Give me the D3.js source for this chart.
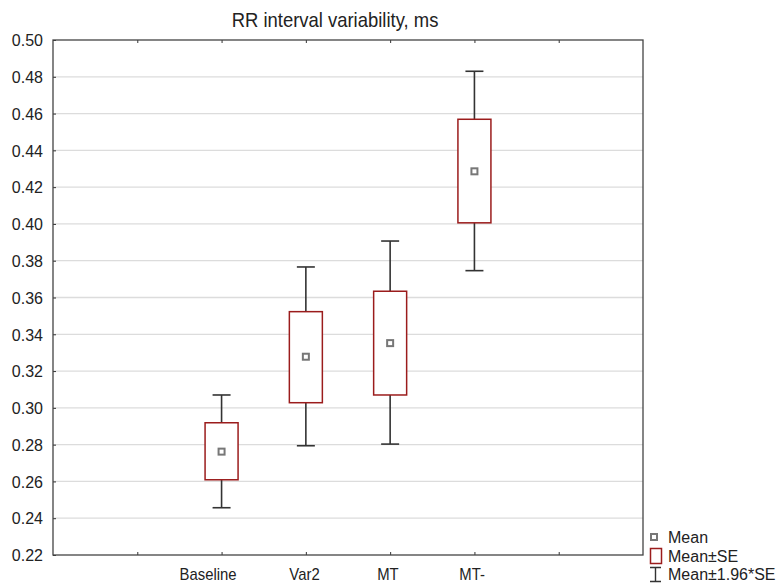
<!DOCTYPE html>
<html>
<head>
<meta charset="utf-8">
<script src="https://cdn.jsdelivr.net/npm/d3@7"></script>
<style>
  body { margin: 0; background: #fff; }
  text { font-family: "Liberation Sans", Arial, sans-serif; fill: #222; }
</style>
</head>
<body>
<svg id="viz" width="779" height="585"></svg>
<script>
// values
const groups = ['Baseline', 'Var2', 'MT', 'MT-']
const means = [0.2762, 0.3278, 0.3352, 0.4286]
const seLow = [0.2609, 0.3028, 0.3070, 0.4006]
const seHigh = [0.2919, 0.3523, 0.3634, 0.4569]
const ciLow = [0.2457, 0.2794, 0.2803, 0.3746]
const ciHigh = [0.3070, 0.3766, 0.3907, 0.4830]
const yTicks = [0.22, 0.24, 0.26, 0.28, 0.30, 0.32, 0.34, 0.36, 0.38, 0.40, 0.42, 0.44, 0.46, 0.48, 0.50]
const xSlots = [1, 2, 3, 4, 5, 6]

const box_color = '#9b1c1c'
const whisker_color = '#333333'
const mean_color = '#777777'
const label_shift = [-15, -2, -3, -3]   // the original labels sit a bit left of their ticks

let svg = d3.select("#viz");

const m = { left: 53, right: 643, top: 40, bottom: 555 };

// 7 slots along x, groups sit on the 2nd..5th tick
let x = d3.scaleLinear().domain([0, 7]).range([m.left, m.right]);
let y = d3.scaleLinear().domain([0.22, 0.50]).range([m.bottom, m.top]);
let pos = i => x(i + 2);

// grid
svg.append("g").selectAll("line")
    .data(yTicks.slice(1, -1))
    .join("line")
    .attr("x1", m.left).attr("x2", m.right)
    .attr("y1", d => y(d)).attr("y2", d => y(d))
    .style("stroke", "#dcdcdc")
    .style("stroke-width", 1.3);

// axes (ticks point inward)
svg.append("g").attr("transform", `translate(${m.left},0)`)
    .call(d3.axisLeft(y).tickValues(yTicks).tickFormat(d3.format(".2f")).tickSizeInner(-3).tickSizeOuter(0))
    .call(g => g.select(".domain").remove())
    .call(g => g.selectAll("line").style("stroke", "#333"))
    .call(g => g.selectAll("text").style("font-size", "16px")
        .attr("x", -10).attr("dy", "0.36em"));

svg.append("g").attr("transform", `translate(0,${m.bottom})`)
    .call(d3.axisBottom(x).tickValues(xSlots).tickSizeInner(-3).tickSizeOuter(0).tickFormat(d => groups[d - 2] || ""))
    .call(g => g.select(".domain").remove())
    .call(g => g.selectAll("line").style("stroke", "#333"))
    .call(g => g.selectAll("text").style("font-size", "16px").attr("y", 25).attr("dy", 0)
        .attr("dx", d => label_shift[d - 2] || 0)
        .attr("transform", "scale(0.93,1)"));

svg.append("g").attr("transform", `translate(0,${m.top})`)
    .call(d3.axisTop(x).tickValues(xSlots).tickSizeInner(-3).tickSizeOuter(0).tickFormat(""))
    .call(g => g.select(".domain").remove())
    .call(g => g.selectAll("line").style("stroke", "#333"));

// frame
svg.append("rect")
    .attr("x", m.left).attr("y", m.top)
    .attr("width", m.right - m.left).attr("height", m.bottom - m.top)
    .style("fill", "none")
    .style("stroke", "#444")
    .style("stroke-width", 1.3);

// boxes and whiskers
let capW = 18, boxW = 33;
let plot = svg.append("g");
groups.forEach(function (g, i) {
    let cx = pos(i);
    plot.append("line")
        .attr("x1", cx).attr("x2", cx)
        .attr("y1", y(ciLow[i])).attr("y2", y(ciHigh[i]))
        .style("stroke", whisker_color).style("stroke-width", 1.6);
    [ciLow[i], ciHigh[i]].forEach(v => {
        plot.append("line")
            .attr("x1", cx - capW / 2).attr("x2", cx + capW / 2)
            .attr("y1", y(v)).attr("y2", y(v))
            .style("stroke", whisker_color).style("stroke-width", 1.6);
    });
    plot.append("rect")
        .attr("x", cx - boxW / 2).attr("width", boxW)
        .attr("y", y(seHigh[i])).attr("height", y(seLow[i]) - y(seHigh[i]))
        .style("fill", "#fff")
        .style("stroke", box_color).style("stroke-width", 1.5);
    plot.append("rect")
        .attr("x", cx - 3).attr("y", y(means[i]) - 3)
        .attr("width", 6).attr("height", 6)
        .style("fill", "#fff")
        .style("stroke", mean_color).style("stroke-width", 2);
});

// title (tall, narrow face in the original)
svg.append("text")
    .attr("transform", "translate(335,27) scale(0.9,1)")
    .attr("text-anchor", "middle")
    .style("font-size", "20.5px")
    .text("RR interval variability, ms");

// legend
let lg = svg.append("g");
lg.append("rect").attr("x", 651).attr("y", 534).attr("width", 6).attr("height", 6)
    .style("fill", "#fff").style("stroke", mean_color).style("stroke-width", 2);
lg.append("rect").attr("x", 650.5).attr("y", 548.5).attr("width", 11).attr("height", 15)
    .style("fill", "#fff").style("stroke", box_color).style("stroke-width", 1.5);
lg.append("path").attr("d", "M650,567.5H661M655.5,567.5V581.5M650,581.5H661")
    .style("fill", "none").style("stroke", whisker_color).style("stroke-width", 1.4);
[["Mean", 543], ["Mean±SE", 562], ["Mean±1.96*SE", 580]].forEach(function (d) {
    lg.append("text")
        .attr("x", 668).attr("y", d[1])
        .style("font-size", "16px")
        .text(d[0]);
});
</script>
</body>
</html>
